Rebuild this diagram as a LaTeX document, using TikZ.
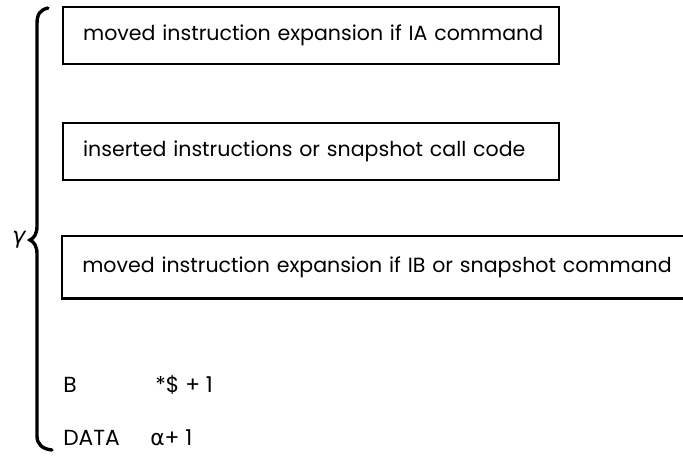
\documentclass[tikz,border=0pt]{standalone}
\usepackage{fontspec}
\setmainfont{Poppins}
\newfontfamily\greekfont{DejaVu Sans}
\usetikzlibrary{positioning}

\tikzset{
  codebox/.style={draw,line width=1.6pt,anchor=north west,inner sep=0pt,
    text width=#1,minimum height=57\unit,align=left},
  codetext/.style={anchor=base west,inner sep=0pt,font=\fontsize{15.5}{16}\selectfont},
}
\newlength{\unit}
\setlength{\unit}{0.025cm}

\begin{document}
\begin{tikzpicture}[x=0.025cm,y=-0.025cm,font=\fontsize{14.6}{16}\selectfont]
  \useasboundingbox (0,0) rectangle (683,455);

  % Boxes
  \node[codebox=496\unit] (ia) at (62,6)
    {\hspace*{20\unit}moved instruction expansion if IA command};
  \node[codebox=496\unit] (ins) at (62,122)
    {\hspace*{20\unit}inserted instructions or snapshot call code};
  \node[anchor=north west,inner sep=0pt,minimum width=621\unit,
    minimum height=62\unit,text width=621\unit] (ib) at (62,236)
    {\hspace*{20\unit}moved instruction expansion if IB or snapshot command};
  \draw[line width=1.6pt] (ib.north east) -- (ib.north west)
    -- (ib.south west) -- (ib.south east);

  % Code lines
  \node[codetext] (b) at (63,392) {B};
  \node[codetext] (bop) at (155,392) {*\$ + 1};
  \node[codetext] (data) at (63,445) {DATA};
  \node[codetext] (dop) at (150,445) {{\greekfont α}+ 1};

  % Brace
  \coordinate (top) at (48,8);
  \coordinate (tip) at (30,240);
  \coordinate (bot) at (52,450);
  \draw[line width=2.4pt,line cap=round]
    (top) .. controls (40,10) and (37,14) .. (37,24)
    -- (37,226) .. controls (37,234) and (34,238) .. (tip)
    .. controls (34,242) and (37,246) .. (37,254)
    -- (37,436) .. controls (37,444) and (42,449) .. (bot);
  \node[left=3pt of tip,inner sep=0pt,font=\fontsize{16}{16}\selectfont\greekfont\itshape] (gamma) {γ};
\end{tikzpicture}
\end{document}
